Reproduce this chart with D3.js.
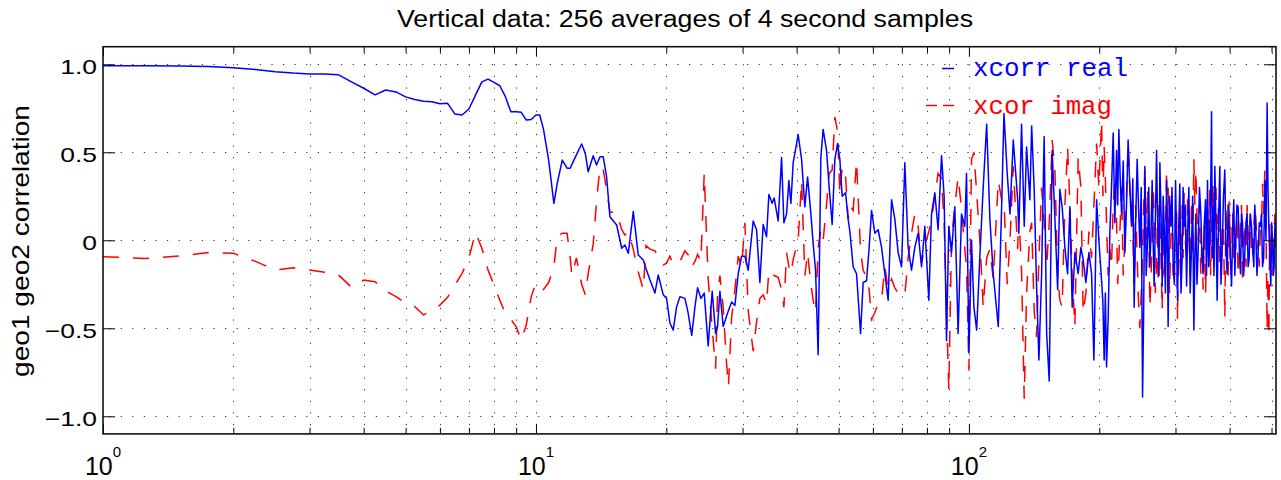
<!DOCTYPE html>
<html><head><meta charset="utf-8">
<script src="https://cdn.jsdelivr.net/npm/d3@7"></script>
<style>body{margin:0;background:#fff} svg{display:block}</style>
</head><body><svg id="c" width="1281" height="480"></svg>
<script>
// ---------------- data ----------------
const freq = [
1,1.25,1.5,1.75,2,2.25,2.5,2.75,3,3.25,
3.5,3.75,4,4.25,4.5,4.75,5,5.25,5.5,5.75,
6,6.25,6.5,6.75,7,7.25,7.5,7.75,8,8.25,
8.5,8.75,9,9.25,9.5,9.75,10,10.2,10.4,10.7,
11,11.2,11.5,11.8,12,12.1,12.4,12.75,13,13.2,
13.56,13.8,14.06,14.3,14.56,14.82,15.36,15.78,16.05,16.34,
16.78,17.23,17.7,17.95,18.34,18.83,19.16,19.68,20.03,20.39,
20.75,21.13,21.51,22.08,22.45,22.9,23.29,23.62,24.04,24.47,
24.99,25.53,26,26.27,26.6,27.07,27.56,27.83,28.31,28.81,
29.32,29.85,30.38,30.92,31.75,32.33,32.9,33.48,34.09,34.51,
35.12,35.5,36.26,36.92,37.38,37.92,38.38,38.8,39.27,40.33,
41.07,41.79,42.4,43.15,43.68,44.24,44.85,45.5,46.06,46.9,
47.56,48.32,49.02,49.73,50.34,50.96,51.89,52.61,53.09,54.03,
55.01,56.2,56.98,58.02,58.83,59.58,60.64,61.71,62.84,63.95,
65.08,66.27,67.44,68.63,69.89,71.12,72.38,73.7,75,76.33,
77.73,79.1,80.8,81.97,83.42,84.89,86.45,87.65,88.77,89.86,
91.16,92.78,94.42,96.14,97.84,98.73,100,101.4,102.7,104.2,
106,107.9,109.9,111.8,113.8,116.9,119,120.5,122.6,124.4,
126.6,129.6,130.4,132.3,134.2,135.9,138.3,139.6,141.5,143.3,
145.1,147.2,149.2,151.2,153.3,155.7,158,160.3,162.2,164.2,
166.6,169,171.1,173.2,175.7,178.8,181.4,183.6,186.3,189.3,
192,194.4,197.2,199.6,202.5,203.9,205.3,206.6,207.9,209.7,
211.6,213.5,215.4,217.3,219.3,220.6,222,223.6,225.2,227.2,
229.2,231.2,233.2,235.3,237.5,239.1,240.8,242.7,244.7,246.4,
248.2,250,251.8,253.3,254.9,256.7,258.6,260.2,261.8,263.4,
265,266.4,267.8,269.5,271.3,272.4,273.6,274.8,276.1,277.8,
279.5,281,282.5,284.3,286.1,287.3,288.5,290.6,292.7,294.5,
296.3,298.2,300.1,301.7,303.3,305.1,307,308.9,310.8,312.4,
314.1,316.1,318.2,320.1,322.1,324.4,326.7,328.7,330.8,332.5,
334.3,336.3,338.4,340.8,343.3,345.4,347.5,349.7,352,353.8,
355.7,357.9,360.1,361.7,363.4,365,366.5,368.1,369.8,372.1,
374.4,377.1,379.8,382.1,384.5,387.2,390,392.4,394.8,396.9,
399,401.6,404.2,406.6,409.1,411.3,413.5,416,418.6,421.3,
424,426.2,428.5,431.1,433.8,436.4,439.1,441.4,443.8,446.6,
449.5,452.2,455,457.4,459.9,462.7,465.6,468.5,471.5,474,
476.6,479.5,482.4,485.4,488.4,490.6,492.8,495.4,498.1,500.3,
502.6,504.7,506.9,509.2,511.5
];
const xcorrReal = [
0.992,0.992,0.99,0.988,0.981,0.97,0.958,0.95,0.945,0.945,
0.94,0.90,0.864,0.826,0.854,0.843,0.815,0.80,0.79,0.787,
0.776,0.778,0.717,0.712,0.746,0.825,0.90,0.916,0.897,0.878,
0.816,0.73,0.731,0.727,0.683,0.686,0.712,0.712,0.636,0.456,
0.21,0.324,0.456,0.41,0.41,0.43,0.485,0.547,0.494,0.39,
0.48,0.428,0.475,0.475,0.36,0.134,0.087,-0.045,-0.027,-0.074,
0.163,-0.084,-0.112,-0.16,-0.226,-0.30,-0.197,-0.31,-0.33,-0.47,
-0.51,-0.377,-0.32,-0.33,-0.41,-0.54,-0.38,-0.27,-0.33,-0.30,
-0.60,-0.29,-0.53,-0.49,-0.29,-0.49,-0.43,-0.40,-0.35,-0.37,
-0.19,-0.09,-0.09,-0.17,0.11,0.06,-0.24,0.09,0.02,0.26,
0.21,0.24,0.11,0.47,0.10,0.15,0.34,0.21,0.44,0.60,
0.46,0.19,0.36,0.15,-0.02,-0.17,-0.65,0.47,0.63,0.51,
0.30,0.09,0.46,0.55,0.46,0.25,0.27,0.12,0.05,-0.15,
-0.19,-0.53,-0.24,-0.23,-0.04,0.17,0.04,0.06,-0.04,-0.19,
-0.34,0.23,0.12,-0.07,-0.15,0.44,-0.04,-0.17,-0.04,0.04,
-0.15,0.08,-0.34,0.15,0.27,0.06,0.48,0.25,-0.57,0.08,
-0.07,0.19,-0.53,0.15,0.08,0.38,-0.64,0,-0.38,-0.51,
-0.09,0.30,0.66,0.12,-0.19,-0.49,0.19,0.72,0.38,0.15,
0.57,0.23,0.04,0.66,0.08,0.53,0.23,0.65,0.29,-0.26,
-0.68,-0.19,0.59,-0.53,-0.80,0.51,0.12,-0.28,0.29,0.19,
-0.04,-0.19,0.19,-0.38,-0.07,-0.19,-0.04,-0.11,-0.24,-0.07,
-0.19,-0.68,0.23,0,-0.23,-0.35,-0.68,-0.3,-0.72,-0.45,
0.04,0.3,0.61,0.1,0.51,0.2,0.63,0.35,0.15,0.45,
-0.07,0.2,0.57,0.3,0.08,0.35,-0.38,0.1,0.46,0.2,
-0.04,0.3,-0.89,-0.4,0.42,-0.2,0,0.3,-0.15,0.05,
0.34,0.0,-0.26,0.1,0.51,0.2,0,-0.2,0.44,0.15,
-0.26,0.25,0.08,-0.3,0.34,0.0,-0.49,0.25,0.08,0.3,
-0.15,-0.25,0.34,0.0,-0.34,0.05,0.32,-0.3,-0.11,0.3,
0.08,0.2,-0.26,0.05,0.30,-0.3,-0.04,0.25,-0.51,-0.1,
0.15,-0.25,-0.07,0.3,0.15,-0.1,-0.19,0.1,0.23,-0.2,
0.34,-0.15,0,0.25,0.73,-0.1,0.19,-0.2,0.42,0.1,
-0.34,0.1,0.42,-0.25,-0.07,0.25,0.40,-0.05,-0.19,0.2,
0.08,-0.1,-0.26,0.05,0.23,-0.2,0,0.2,0.19,-0.05,
-0.19,0.15,0.10,-0.2,-0.07,0.1,0.15,-0.15,-0.11,0.15,
0.08,-0.05,-0.15,0.2,0.04,-0.2,-0.07,0.1,0.08,0.15,
-0.15,-0.1,0.34,0.0,0.78,0.3,0.08,-0.1,-0.26,0.1,
0,-0.2,-0.15,0.1,-0.04
];
const xcorImag = [
-0.093,-0.103,-0.089,-0.07,-0.074,-0.12,-0.169,-0.156,-0.169,-0.182,
-0.197,-0.267,-0.226,-0.235,-0.288,-0.32,-0.358,-0.377,-0.424,-0.396,
-0.368,-0.324,-0.254,-0.188,-0.102,0.045,-0.045,-0.169,-0.254,-0.34,
-0.415,-0.449,-0.49,-0.567,-0.48,-0.32,-0.244,-0.26,-0.28,-0.24,
-0.15,0.02,0.04,0.04,-0.10,-0.20,-0.10,-0.25,-0.31,-0.19,
-0.02,0.22,0.42,0.40,0.29,0.16,0.16,0.06,0.03,0.05,
-0.05,-0.18,-0.28,-0.03,-0.05,-0.06,-0.09,-0.14,-0.13,-0.09,
-0.14,-0.13,-0.12,-0.06,-0.08,-0.15,-0.12,-0.08,-0.12,0.38,
-0.22,-0.50,-0.73,-0.30,-0.20,-0.38,-0.70,-0.83,-0.44,-0.28,
-0.09,-0.15,0.10,-0.40,-0.63,-0.46,-0.33,-0.31,-0.36,-0.17,
-0.19,-0.20,-0.21,-0.28,-0.38,-0.07,-0.15,-0.19,-0.11,0.0,
0.34,-0.20,-0.07,-0.25,-0.34,-0.41,-0.04,0.06,0.0,0.20,
0.38,0.40,0.70,0.62,0.26,0.42,0.36,0.12,0.20,0.17,
0.45,-0.06,-0.17,-0.21,-0.28,-0.45,-0.41,-0.36,-0.34,-0.15,
-0.28,-0.22,-0.27,-0.30,-0.29,-0.31,-0.10,0.04,0.15,0.08,
-0.13,-0.03,0.05,0.12,0.25,0.38,0.35,0.10,-0.40,-0.85,
0.0,0.20,0.36,0.18,-0.05,-0.15,-0.74,0.46,0.50,0.27,
0.0,-0.38,-0.10,-0.05,-0.22,0.34,0.23,0.23,-0.25,0.0,
0.42,-0.05,0.15,-0.17,-0.90,-0.30,0.05,0.10,-0.40,-0.55,
-0.10,0.30,0.10,-0.15,0.10,0.57,0.40,-0.20,-0.34,-0.38,
0.20,0.53,0.20,-0.20,-0.49,0.47,0.30,-0.41,-0.30,0.05,
-0.10,0.20,0.55,0.30,0.68,0.25,0.53,0.35,0.10,-0.2,
-0.05,-0.15,0.20,0.35,0.10,-0.25,-0.10,0.1,0.30,-0.2,
0.0,0.25,0.55,0.3,0.10,0.05,-0.25,0.2,-0.10,-0.35,
-0.50,-0.3,-0.10,0.2,0.42,0.0,0.30,0.1,-0.38,-0.2,
0.0,0.3,0.15,-0.3,-0.15,0.1,-0.25,0.2,0.10,-0.1,
-0.40,0.15,-0.20,-0.05,0.40,-0.1,0.30,-0.3,0.0,0.25,
-0.20,-0.1,0.10,0.2,-0.45,0.1,-0.10,-0.25,0.20,-0.1,
0.27,0.0,-0.10,0.25,0.10,-0.2,0.23,-0.1,0.46,0.2,
0.40,0.15,0.0,0.2,-0.20,0.0,-0.28,0.1,-0.30,-0.1,
0.20,-0.15,0.30,-0.2,0.05,0.15,0.33,-0.15,0.10,0.3,
-0.05,0.2,-0.15,-0.2,0.10,0.1,-0.44,0.2,0.0,-0.2,
0.23,-0.1,0.15,0.15,-0.10,0.1,-0.05,0.15,-0.20,-0.1,
0.10,0.2,-0.25,0.0,0.10,-0.15,0.20,0.05,0.0,0.15,
-0.10,-0.1,0.05,0.2,0.13,-0.05,0.0,-0.15,0.10,0.1,
0.32,0.15,0.40,0.1,-0.51,-0.2,-0.55,0.1,-0.20,0.05,
-0.10,-0.2,0.05,0.15,0.0
];
const yTickValues = [-1, -0.5, 0, 0.5, 1];
const yTickLabels = ["\u22121.0", "\u22120.5", "0", "0.5", "1.0"];
const xMajorTicks = [1, 10, 100];
const xMajorExponents = ["0", "1", "2"];
const xMinorTicks = [2,3,4,5,6,7,8,9,20,30,40,50,60,70,80,90,200,300,400,500];
const titleText = "Vertical data: 256 averages of 4 second samples";
const yLabelText = "geo1 geo2 correlation";
const legendLabels = ["xcorr real", "xcor imag"];

// ---------------- layout ----------------
const W = 1281, H = 480;
const box = {left: 103, right: 1276, top: 46.7, bottom: 433.9};
const x = d3.scaleLog().domain([1, 512]).range([box.left, box.right]);
const y = d3.scaleLinear().domain([-1.1, 1.1]).range([box.bottom, box.top]);
const svg = d3.select("#c");
const sans = "'Liberation Sans', Arial, Helvetica, sans-serif";
const mono = "'Liberation Mono', 'Courier New', monospace";

function stretch(sel, factor) {
  sel.each(function () {
    const w = this.getComputedTextLength();
    d3.select(this).attr("textLength", w * factor).attr("lengthAdjust", "spacingAndGlyphs");
  });
}

svg.append("rect").attr("width", W).attr("height", H).attr("fill", "#fff");

// grid (dotted)
const grid = svg.append("g").attr("stroke", "#333").attr("stroke-width", 1)
  .attr("stroke-dasharray", "1.2,10.4");
grid.selectAll("line.gx").data(xMajorTicks.concat(xMinorTicks).filter(d => d > 1)).join("line")
  .attr("class", "gx")
  .attr("x1", d => Math.round(x(d)) + 0.5).attr("x2", d => Math.round(x(d)) + 0.5)
  .attr("y1", box.top + 6).attr("y2", box.bottom);
grid.selectAll("line.gy").data(yTickValues).join("line")
  .attr("class", "gy")
  .attr("y1", d => Math.round(y(d)) + 0.5).attr("y2", d => Math.round(y(d)) + 0.5)
  .attr("x1", box.left + 6).attr("x2", box.right);

// data lines (imaginary first, real drawn on top)
svg.append("clipPath").attr("id", "clip").append("rect")
  .attr("x", box.left).attr("y", box.top).attr("width", box.right - box.left).attr("height", box.bottom - box.top);
const realPts = freq.map((f, i) => [f, xcorrReal[i]]);
const imagPts = freq.map((f, i) => [f, xcorImag[i]]);
const line = d3.line().x(d => x(d[0])).y(d => y(d[1]));
const plot = svg.append("g").attr("clip-path", "url(#clip)");
plot.append("path").datum(imagPts).attr("d", line).attr("fill", "none")
  .attr("stroke", "#ff0000").attr("stroke-width", 1.5).attr("stroke-dasharray", "16,14");
plot.append("path").datum(realPts).attr("d", line).attr("fill", "none")
  .attr("stroke", "#0000ff").attr("stroke-width", 1.5).attr("stroke-linejoin", "round");

// ticks (inward) on all four sides
function noDomain(g) { g.select(".domain").remove(); g.selectAll("text").remove(); }
const tickStroke = g => g.selectAll("line").attr("stroke", "#000").attr("stroke-width", 1);
svg.append("g").attr("transform", `translate(0,${box.bottom})`)
  .call(d3.axisBottom(x).tickValues(xMajorTicks).tickSizeInner(-10).tickSizeOuter(0)).call(noDomain).call(tickStroke);
svg.append("g").attr("transform", `translate(0,${box.bottom})`)
  .call(d3.axisBottom(x).tickValues(xMinorTicks).tickSizeInner(-6).tickSizeOuter(0)).call(noDomain).call(tickStroke);
svg.append("g").attr("transform", `translate(0,${box.top})`)
  .call(d3.axisTop(x).tickValues(xMajorTicks).tickSizeInner(-10).tickSizeOuter(0)).call(noDomain).call(tickStroke);
svg.append("g").attr("transform", `translate(0,${box.top})`)
  .call(d3.axisTop(x).tickValues(xMinorTicks).tickSizeInner(-6).tickSizeOuter(0)).call(noDomain).call(tickStroke);
svg.append("g").attr("transform", `translate(${box.left},0)`)
  .call(d3.axisLeft(y).tickValues(yTickValues).tickSizeInner(-12).tickSizeOuter(0)).call(noDomain).call(tickStroke);
svg.append("g").attr("transform", `translate(${box.right},0)`)
  .call(d3.axisRight(y).tickValues(yTickValues).tickSizeInner(-12).tickSizeOuter(0)).call(noDomain).call(tickStroke);

// box
svg.append("rect").attr("x", box.left).attr("y", box.top)
  .attr("width", box.right - box.left).attr("height", box.bottom - box.top)
  .attr("fill", "none").attr("stroke", "#111").attr("stroke-width", 1.6);

// y tick labels
const yl = svg.append("g").attr("font-family", sans).attr("font-size", 21).attr("fill", "#000")
  .attr("text-anchor", "end");
yl.selectAll("text").data(yTickValues).join("text")
  .attr("x", 97).attr("y", d => y(d) + 10).text((d, i) => yTickLabels[i])
  .call(stretch, 1.26);

// x tick labels 10^n
const xl = svg.append("g").attr("font-family", sans).attr("fill", "#000").attr("text-anchor", "middle");
xMajorTicks.forEach((t, i) => {
  const tx = xl.append("text").attr("x", x(t)).attr("y", 475).attr("font-size", 25);
  tx.append("tspan").text("10");
  tx.append("tspan").attr("font-size", 15).attr("dy", -18).text(xMajorExponents[i]);
});

// title
svg.append("text").attr("x", 685).attr("y", 27).attr("text-anchor", "middle")
  .attr("font-family", sans).attr("font-size", 23.5).attr("fill", "#000")
  .text(titleText).attr("textLength", 576).attr("lengthAdjust", "spacingAndGlyphs");

// y label
svg.append("text").attr("transform", "translate(29,241) rotate(-90)").attr("text-anchor", "middle")
  .attr("font-family", sans).attr("font-size", 24).attr("fill", "#000")
  .text(yLabelText).attr("textLength", 272).attr("lengthAdjust", "spacingAndGlyphs");

// legend
const lg = svg.append("g");
lg.append("line").attr("x1", 942).attr("x2", 954).attr("y1", 68.5).attr("y2", 68.5)
  .attr("stroke", "#0000ff").attr("stroke-width", 1.5);
lg.append("line").attr("x1", 926).attr("x2", 937).attr("y1", 105.5).attr("y2", 105.5)
  .attr("stroke", "#ff0000").attr("stroke-width", 1.5);
lg.append("line").attr("x1", 943).attr("x2", 954).attr("y1", 105.5).attr("y2", 105.5)
  .attr("stroke", "#ff0000").attr("stroke-width", 1.5);
lg.append("text").attr("x", 973).attr("y", 75.5).attr("font-family", mono).attr("font-size", 25)
  .attr("fill", "#0000ff").text(legendLabels[0]).attr("textLength", 155).attr("lengthAdjust", "spacingAndGlyphs");
lg.append("text").attr("x", 973).attr("y", 113.5).attr("font-family", mono).attr("font-size", 25)
  .attr("fill", "#ff0000").text(legendLabels[1]).attr("textLength", 139).attr("lengthAdjust", "spacingAndGlyphs");
</script></body></html>
